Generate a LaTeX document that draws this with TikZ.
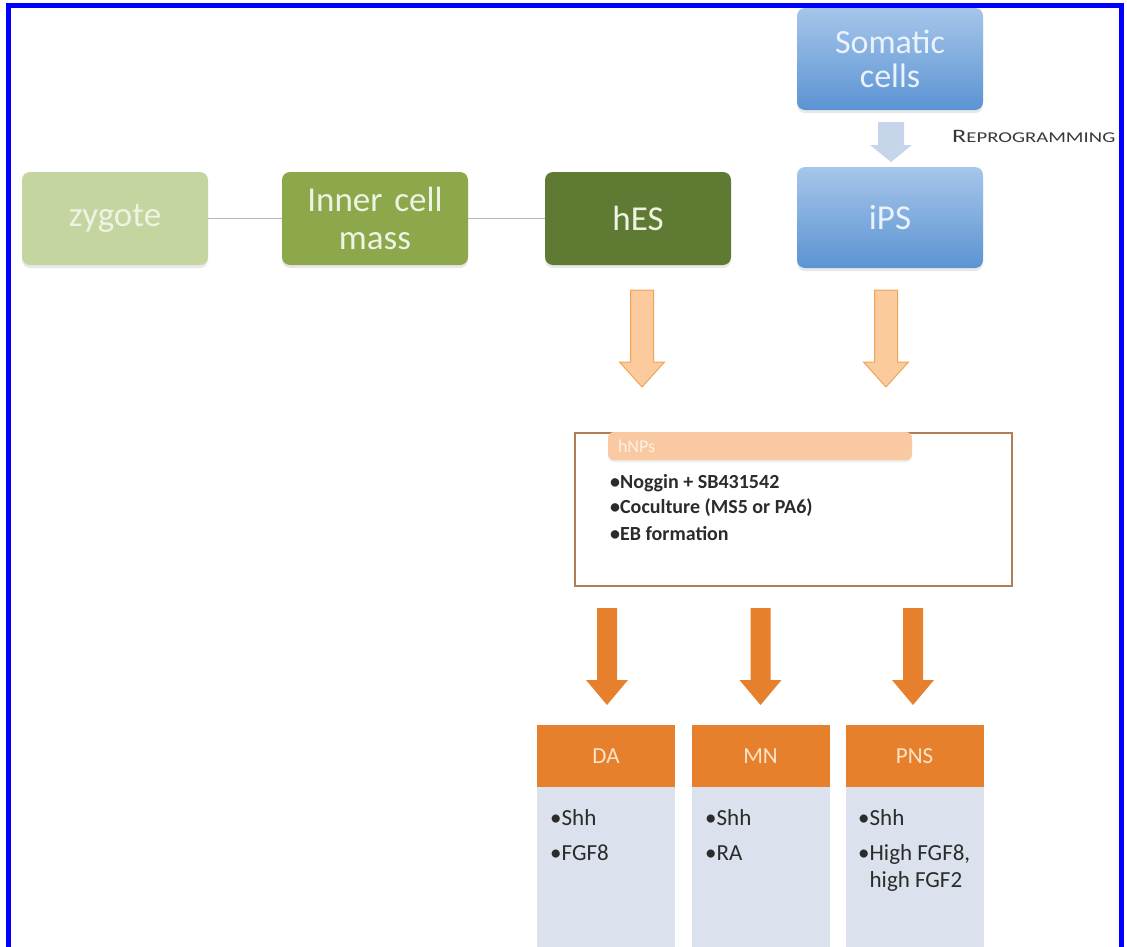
\documentclass[tikz,border=0pt]{standalone}
\usepackage{fontspec}
\setmainfont{Carlito}
\usetikzlibrary{shadows}
\definecolor{zyg}{HTML}{C4D5A0}
\definecolor{icmc}{HTML}{8DA84B}
\definecolor{hesc}{HTML}{5F7A32}
\definecolor{boxtxt}{HTML}{EEF3E4}
\definecolor{bluetxt}{HTML}{EAF2FB}
\definecolor{bluetop}{HTML}{A6C6EA}
\definecolor{bluebot}{HTML}{5B93D3}
\definecolor{smallarr}{HTML}{C6D5EA}
\definecolor{holfill}{HTML}{FBCB9D}
\definecolor{holdraw}{HTML}{F0A256}
\definecolor{hnphead}{HTML}{F9C9A1}
\definecolor{hnptxt}{HTML}{FFF1E4}
\definecolor{hnpframe}{HTML}{B27C55}
\definecolor{orng}{HTML}{E6802D}
\definecolor{bodyblue}{HTML}{DBE2ED}
\definecolor{hdrtxt}{HTML}{FDE4C8}
\definecolor{txtdark}{HTML}{2B2B2B}
\definecolor{reptxt}{HTML}{383838}
\definecolor{linkgray}{HTML}{B5B5B5}
\definecolor{frameblue}{HTML}{0000FF}
% style, cx, top, bottom, shaft half width, head half width, head length
\newcommand\mkblockarrow[7]{%
  \path[#1] (#2-#5,#3) -- (#2+#5,#3) -- (#2+#5,#4-#7) -- (#2+#6,#4-#7) -- (#2,#4)
    -- (#2-#6,#4-#7) -- (#2-#5,#4-#7) -- cycle;}
\begin{document}
\begin{tikzpicture}[x=1pt,y=-1pt,
  topbox/.style={rounded corners=8pt, minimum width=186pt, minimum height=93pt,
    text width=180pt, align=center, inner sep=0pt, text=boxtxt,
    font=\fontsize{35}{38}\selectfont,
    drop shadow={shadow xshift=0pt, shadow yshift=-3pt, opacity=0.18}},
  bluebox/.style={top color=bluetop, bottom color=bluebot, text=bluetxt},
  bul/.style={anchor=base west, inner sep=0pt, font=\fontsize{20}{26}\selectfont\bfseries, text=txtdark},
  hdr/.style={fill=orng, minimum width=138pt, minimum height=62pt, inner sep=0pt,
    text=hdrtxt, font=\fontsize{23}{23}\selectfont},
  bodybox/.style={fill=bodyblue, minimum width=138pt, minimum height=170pt, inner sep=0pt, anchor=north},
  btxt/.style={anchor=base west, inner sep=0pt, font=\fontsize{23}{27}\selectfont, text=txtdark},
  hollow/.style={fill=holfill, draw=holdraw, line width=1pt},
  solid/.style={fill=orng},
  link/.style={linkgray, line width=1.5pt}]
\useasboundingbox (0,0) rectangle (1127,946);
\clip (0,0) rectangle (1127,946);

% top row
\node[topbox, fill=zyg] (zyg) at (115,218.5) {zygote};
\node[topbox, fill=icmc] (icm) at (375,218.5) {Inner cell\\mass};
\node[topbox, fill=hesc] (hes) at (638,218.5) {hES};
\draw[link] (zyg) -- (icm);
\draw[link] (icm) -- (hes);

\node[topbox, bluebox, minimum height=102pt, font=\fontsize{34}{34}\selectfont] (som) at (890,59) {Somatic\\cells};
\node[topbox, bluebox, minimum height=101pt] (ips) at (890,217.5) {iPS};
\mkblockarrow{fill=smallarr}{891}{122}{162}{13}{21}{17}
\node[anchor=base west, inner sep=0pt, text=reptxt] (rep) at (952,142)
  {\scalebox{1.38}[1]{\fontsize{19}{19}\selectfont R\fontsize{15}{15}\selectfont EPROGRAMMING}};

% hollow arrows
\mkblockarrow{hollow}{642}{290}{387}{11.5}{22.5}{25}
\mkblockarrow{hollow}{886}{290}{387}{11.5}{22.5}{25}

% hNPs
\node[draw=hnpframe, line width=1.5pt, minimum width=437pt, minimum height=153pt, inner sep=0pt]
  (frame) at (793.5,509.5) {};
\node[fill=hnphead, rounded corners=6pt, minimum width=304pt, minimum height=28pt,
  text width=284pt, align=left, inner sep=0pt, text=hnptxt, font=\fontsize{18}{18}\selectfont,
  drop shadow={shadow xshift=0pt, shadow yshift=-2pt, opacity=0.15}]
  (hnp) at (760,446) {hNPs};
\node[bul] (b1) at (610,488) {•Noggin + SB431542};
\node[bul] (b2) at (610,513) {•Coculture (MS5 or PA6)};
\node[bul] (b3) at (610,540) {•EB formation};

% solid arrows
\mkblockarrow{solid}{607}{608}{705}{10}{21}{25}
\mkblockarrow{solid}{760.5}{608}{705}{10}{21}{25}
\mkblockarrow{solid}{913}{608}{705}{10}{21}{25}

% bottom boxes
\node[hdr] (da) at (606,756) {\raisebox{-4pt}{DA}};
\node[bodybox] (dab) at (da.south) {};
\node[hdr] (mn) at (760.5,756) {\raisebox{-4pt}{MN}};
\node[bodybox] (mnb) at (mn.south) {};
\node[hdr] (pns) at (914.5,756) {\raisebox{-4pt}{PNS}};
\node[bodybox] (pnsb) at (pns.south) {};

\node[btxt] (da1) at (550,825) {•Shh};
\node[btxt] (da2) at (550,860) {•FGF8};
\node[btxt] (mn1) at (705,825) {•Shh};
\node[btxt] (mn2) at (705,860) {•RA};
\node[btxt] (pns1) at (858,825) {•Shh};
\node[btxt] (pns2) at (858,860) {•High FGF8,};
\node[btxt] (pns3) at (858,887) {\phantom{•}high FGF2};

% frame
\draw[frameblue, line width=5pt] (8.5,950) -- (8.5,5) -- (1121.5,5) -- (1121.5,950);
\end{tikzpicture}
\end{document}
